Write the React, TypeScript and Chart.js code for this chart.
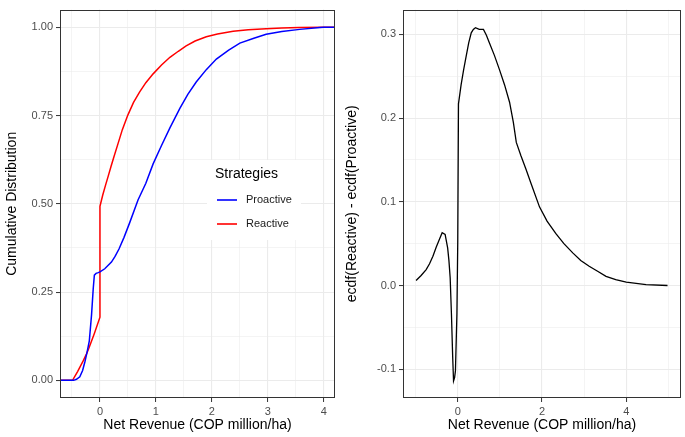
import React, { useEffect, useRef } from "react";
import { Chart, registerables } from "chart.js";
Chart.register(...registerables);

const FONT = "'Liberation Sans', Arial, Helvetica, sans-serif";

// ---------- Left panel: ECDFs ----------
const leftXMin = -0.714;
const leftXMax = 4.2;
const leftYMin = -0.05;
const leftYMax = 1.05;
const leftXMajor = [0, 1, 2, 3, 4];
const leftXMinor = [-0.5, 0.5, 1.5, 2.5, 3.5];
const leftYMajor = [0, 0.25, 0.5, 0.75, 1];
const leftYMinor = [0.125, 0.375, 0.625, 0.875];

const strategyLabels = ["Proactive", "Reactive"];
const strategyColors = ["#0000FF", "#FF0000"];

const proactiveX = [-0.714, -0.47, -0.42, -0.36, -0.31, -0.27, -0.23, -0.19, -0.15, -0.12, -0.1, -0.07, -0.03, 0, 0.086, 0.205, 0.27, 0.34, 0.43, 0.53, 0.68, 0.82, 0.95, 1.1, 1.25, 1.43, 1.57, 1.72, 1.9, 2.08, 2.3, 2.5, 2.75, 2.97, 3.25, 3.57, 3.93, 4.0, 4.2];
const proactiveY = [0, 0, 0.003, 0.01, 0.028, 0.052, 0.08, 0.112, 0.186, 0.26, 0.298, 0.303, 0.305, 0.307, 0.316, 0.335, 0.351, 0.372, 0.405, 0.446, 0.511, 0.558, 0.613, 0.665, 0.715, 0.771, 0.81, 0.845, 0.88, 0.91, 0.935, 0.955, 0.969, 0.98, 0.988, 0.994, 0.999, 1, 1];

const reactiveX = [-0.714, -0.49, -0.4, -0.3, -0.24, -0.2, -0.1, 0, 0, 0.05, 0.1, 0.145, 0.2, 0.25, 0.32, 0.4, 0.5, 0.6, 0.71, 0.82, 0.95, 1.1, 1.25, 1.4, 1.54, 1.7, 1.9, 2.1, 2.38, 2.65, 2.97, 3.25, 3.56, 4.0, 4.2];
const reactiveY = [0, 0, 0.025, 0.055, 0.075, 0.09, 0.133, 0.179, 0.493, 0.525, 0.553, 0.577, 0.607, 0.633, 0.669, 0.71, 0.752, 0.787, 0.817, 0.843, 0.868, 0.893, 0.915, 0.932, 0.947, 0.961, 0.973, 0.981, 0.989, 0.993, 0.996, 0.998, 0.999, 1, 1];

// ---------- Right panel: difference ----------
const rightXMin = -1.3;
const rightXMax = 5.3;
const rightYMin = -0.1344;
const rightYMax = 0.3297;
const rightXMajor = [0, 2, 4];
const rightXMinor = [-1, 1, 3, 5];
const rightYMajor = [-0.1, 0, 0.1, 0.2, 0.3];
const rightYMinor = [-0.05, 0.05, 0.15, 0.25];

const diffX = [-0.99, -0.87, -0.75, -0.67, -0.59, -0.51, -0.43, -0.37, -0.3, -0.24, -0.21, -0.18, -0.15, -0.12, -0.1, -0.075, -0.055, -0.02, 0, 0.017, 0.08, 0.14, 0.2, 0.26, 0.32, 0.37, 0.42, 0.51, 0.61, 0.68, 0.75, 0.87, 0.99, 1.11, 1.23, 1.32, 1.39, 1.5, 1.62, 1.74, 1.94, 2.12, 2.33, 2.52, 2.73, 2.92, 3.12, 3.32, 3.52, 3.75, 4.0, 4.47, 4.98];
const diffY = [0.006, 0.012, 0.019, 0.026, 0.035, 0.046, 0.056, 0.063, 0.061, 0.045, 0.03, 0.009, -0.034, -0.086, -0.114, -0.11, -0.102, -0.034, 0.053, 0.217, 0.24, 0.258, 0.274, 0.29, 0.302, 0.306, 0.308, 0.306, 0.306, 0.299, 0.29, 0.275, 0.258, 0.24, 0.219, 0.195, 0.171, 0.155, 0.139, 0.122, 0.094, 0.077, 0.062, 0.05, 0.039, 0.03, 0.023, 0.017, 0.011, 0.007, 0.004, 0.001, 0.0];

const toPoints = (xs: number[], ys: number[]) => xs.map((x, i) => ({ x, y: ys[i] }));

function makeAxis(
  min: number,
  max: number,
  major: number[],
  minor: number[],
  fmt: (v: number) => string,
  title: string,
  isX: boolean,
  size: number
) {
  const all = [...major, ...minor].sort((a, b) => a - b);
  const isMajor = (v: any) => typeof v === "number" && major.some((m) => Math.abs(m - v) < 1e-9);
  return {
    type: "linear",
    min,
    max,
    afterBuildTicks: (s: any) => {
      s.ticks = all.map((v) => ({ value: v }));
    },
    afterFit: (s: any) => {
      if (isX) s.height = size;
      else s.width = size;
    },
    grid: {
      color: "#EBEBEB",
      lineWidth: (c: any) => (isMajor(c.tick && c.tick.value) ? 1.1 : 0.55),
      drawTicks: true,
      tickLength: 4,
      tickWidth: 1,
      tickColor: (c: any) => (isMajor(c.tick && c.tick.value) ? "#333333" : "rgba(0,0,0,0)"),
    },
    border: { display: false },
    ticks: {
      autoSkip: false,
      maxRotation: 0,
      minRotation: 0,
      padding: 3,
      color: "#4D4D4D",
      font: { family: FONT, size: 11 },
      callback: (v: any) => (isMajor(v) ? fmt(v) : ""),
    },
    title: {
      display: true,
      text: title,
      color: "#000000",
      font: { family: FONT, size: 14 },
      padding: isX ? { top: 0, bottom: 3 } : { top: 4, bottom: 0 },
    },
  };
}

const framePlugin = {
  id: "frame",
  afterDatasetsDraw(chart: any) {
    const { ctx, chartArea: a } = chart;
    ctx.save();
    ctx.strokeStyle = "#333333";
    ctx.lineWidth = 1;
    const l = Math.round(a.left) + 0.5;
    const t = Math.round(a.top) + 0.5;
    const r = Math.round(a.right) - 0.5;
    const b = Math.round(a.bottom) - 0.5;
    ctx.strokeRect(l, t, r - l, b - t);
    ctx.restore();
  },
};

const legendPlugin = {
  id: "insideLegend",
  afterDraw(chart: any) {
    const { ctx } = chart;
    const box = { x: 207, y: 160, w: 94, h: 80 };
    ctx.save();
    ctx.fillStyle = "#FFFFFF";
    ctx.fillRect(box.x, box.y, box.w, box.h);
    ctx.fillStyle = "#000000";
    ctx.font = `14px ${FONT}`;
    ctx.textBaseline = "middle";
    ctx.textAlign = "left";
    ctx.fillText("Strategies", 215, 174);
    chart.data.datasets.forEach((ds: any, i: number) => {
      const cy = 200 + i * 24;
      ctx.strokeStyle = ds.borderColor;
      ctx.lineWidth = 1.6;
      ctx.beginPath();
      ctx.moveTo(217, cy);
      ctx.lineTo(237, cy);
      ctx.stroke();
      ctx.fillStyle = "#1A1A1A";
      ctx.font = `11px ${FONT}`;
      ctx.fillText(ds.label, 246, cy);
    });
    ctx.restore();
  },
};

function LeftChart() {
  const ref = useRef<HTMLCanvasElement>(null);
  useEffect(() => {
    const chart = new Chart(ref.current as HTMLCanvasElement, {
      type: "line",
      data: {
        datasets: [
          {
            label: strategyLabels[0],
            data: toPoints(proactiveX, proactiveY),
            borderColor: strategyColors[0],
            borderWidth: 1.5,
            pointRadius: 0,
            tension: 0,
          },
          {
            label: strategyLabels[1],
            data: toPoints(reactiveX, reactiveY),
            borderColor: strategyColors[1],
            borderWidth: 1.5,
            pointRadius: 0,
            tension: 0,
          },
        ],
      },
      options: {
        responsive: false,
        maintainAspectRatio: false,
        animation: false,
        layout: { padding: { left: 0, right: 5, top: 3, bottom: 0 } },
        plugins: { legend: { display: false }, tooltip: { enabled: false } },
        scales: {
          x: makeAxis(leftXMin, leftXMax, leftXMajor, leftXMinor, (v) => String(v), "Net Revenue (COP million/ha)", true, 39),
          y: makeAxis(leftYMin, leftYMax, leftYMajor, leftYMinor, (v) => v.toFixed(2), "Cumulative Distribution", false, 60),
        },
      } as any,
      plugins: [framePlugin, legendPlugin],
    } as any);
    return () => chart.destroy();
  }, []);
  return <canvas ref={ref} width={340} height={437} style={{ display: "block", width: 340, height: 437 }} />;
}

function RightChart() {
  const ref = useRef<HTMLCanvasElement>(null);
  useEffect(() => {
    const chart = new Chart(ref.current as HTMLCanvasElement, {
      type: "line",
      data: {
        datasets: [
          {
            label: "ecdf(Reactive) - ecdf(Proactive)",
            data: toPoints(diffX, diffY),
            borderColor: "#000000",
            borderWidth: 1.3,
            pointRadius: 0,
            tension: 0,
          },
        ],
      },
      options: {
        responsive: false,
        maintainAspectRatio: false,
        animation: false,
        layout: { padding: { left: 0, right: 4, top: 7, bottom: 0 } },
        plugins: { legend: { display: false }, tooltip: { enabled: false } },
        scales: {
          x: makeAxis(rightXMin, rightXMax, rightXMajor, rightXMinor, (v) => String(v), "Net Revenue (COP million/ha)", true, 39),
          y: makeAxis(rightYMin, rightYMax, rightYMajor, rightYMinor, (v) => (Math.abs(v) < 1e-9 ? "0.0" : v.toFixed(1)), "ecdf(Reactive) - ecdf(Proactive)", false, 63),
        },
      } as any,
      plugins: [framePlugin],
    } as any);
    return () => chart.destroy();
  }, []);
  return <canvas ref={ref} width={345} height={437} style={{ display: "block", width: 345, height: 437 }} />;
}

export default function App() {
  return (
    <div style={{ position: "absolute", left: 0, top: 0, width: 685, height: 437, background: "#FFFFFF", display: "flex" }}>
      <LeftChart />
      <RightChart />
    </div>
  );
}
